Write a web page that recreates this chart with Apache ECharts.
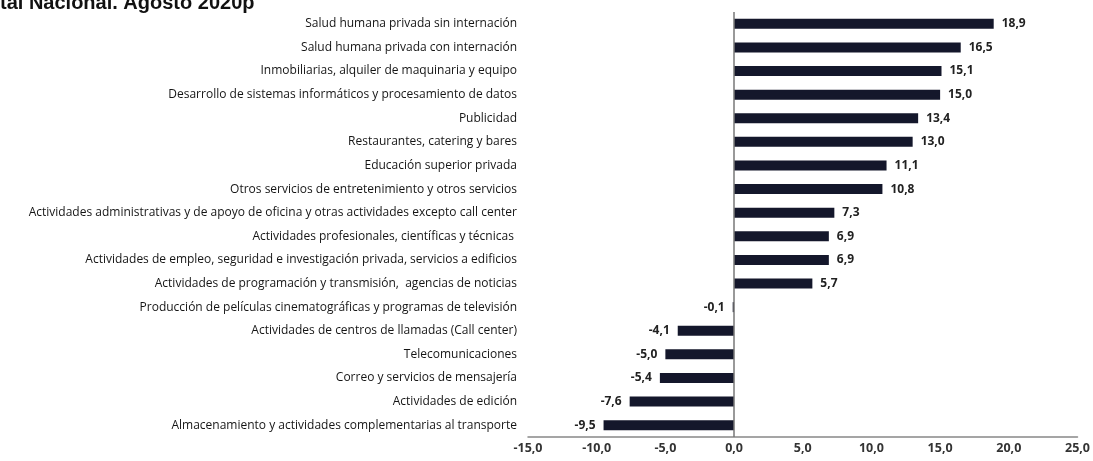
<!DOCTYPE html>
<html>
<head>
<meta charset="utf-8">
<script src="https://cdn.jsdelivr.net/npm/echarts@6/dist/echarts.min.js"></script>
<style>
  html, body { margin: 0; padding: 0; background: #fff; }
  #chart { width: 1093px; height: 461px; }
</style>
</head>
<body>
<div id="chart"></div>
<script>
// sectores, de arriba hacia abajo
var categories = [
  'Salud humana privada sin internación',
  'Salud humana privada con internación',
  'Inmobiliarias, alquiler de maquinaria y equipo',
  'Desarrollo de sistemas informáticos y procesamiento de datos',
  'Publicidad',
  'Restaurantes, catering y bares',
  'Educación superior privada',
  'Otros servicios de entretenimiento y otros servicios',
  'Actividades administrativas y de apoyo de oficina y otras actividades excepto call center',
  'Actividades profesionales, científicas y técnicas ',
  'Actividades de empleo, seguridad e investigación privada, servicios a edificios',
  'Actividades de programación y transmisión,  agencias de noticias',
  'Producción de películas cinematográficas y programas de televisión',
  'Actividades de centros de llamadas (Call center)',
  'Telecomunicaciones',
  'Correo y servicios de mensajería',
  'Actividades de edición',
  'Almacenamiento y actividades complementarias al transporte'
];
var valores = [18.9, 16.5, 15.1, 15.0, 13.4, 13.0, 11.1, 10.8, 7.3, 6.9, 6.9, 5.7, -0.1, -4.1, -5.0, -5.4, -7.6, -9.5];
var xTicks = [-15, -10, -5, 0, 5, 10, 15, 20, 25];
var titulo = 'tal Nacional. Agosto 2020p';

function coma(v) {
  return v.toFixed(1).replace('.', ',');
}

var chart = echarts.init(document.getElementById('chart'));

var option = {
  backgroundColor: '#fff',
  animation: false,
  title: {
    text: titulo,
    left: 0,
    top: -7,
    padding: 0,
    textStyle: {
      fontFamily: 'Liberation Sans',
      fontWeight: 'bold',
      fontSize: 20,
      color: '#111'
    }
  },
  grid: {
    left: 528,
    right: 13,
    top: 12,
    bottom: 24,
    containLabel: false
  },
  xAxis: {
    type: 'value',
    min: xTicks[0],
    max: xTicks[xTicks.length - 1],
    interval: 5,
    splitLine: { show: false },
    axisTick: { show: false },
    axisLine: { show: true, onZero: false, lineStyle: { color: '#888', width: 1.5 } },
    axisLabel: {
      margin: 5,
      color: '#333',
      fontFamily: 'Open Sans',
      fontWeight: 'bold',
      fontSize: 12.5,
      formatter: function (v) { return coma(v); }
    }
  },
  yAxis: {
    type: 'category',
    inverse: true,
    data: categories,
    axisLine: { show: false, onZero: false },
    axisTick: { show: false },
    axisLabel: {
      margin: 11,
      color: '#151515',
      fontFamily: 'Open Sans',
      fontSize: 12
    }
  },
  series: [{
    type: 'bar',
    barWidth: 10,
    itemStyle: { color: '#14172b' },
    data: valores.map(function (v) {
      return {
        value: v,
        label: {
          show: true,
          position: v < 0 ? 'left' : 'right',
          distance: 8,
          formatter: function (p) { return coma(p.value); },
          color: '#222',
          fontFamily: 'Open Sans',
          fontWeight: 'bold',
          fontSize: 12
        }
      };
    }),
    markLine: {
      silent: true,
      symbol: 'none',
      label: { show: false },
      lineStyle: { color: '#777', width: 1.5, type: 'solid' },
      data: [{ xAxis: 0 }]
    }
  }]
};

chart.setOption(option);
</script>
</body>
</html>
